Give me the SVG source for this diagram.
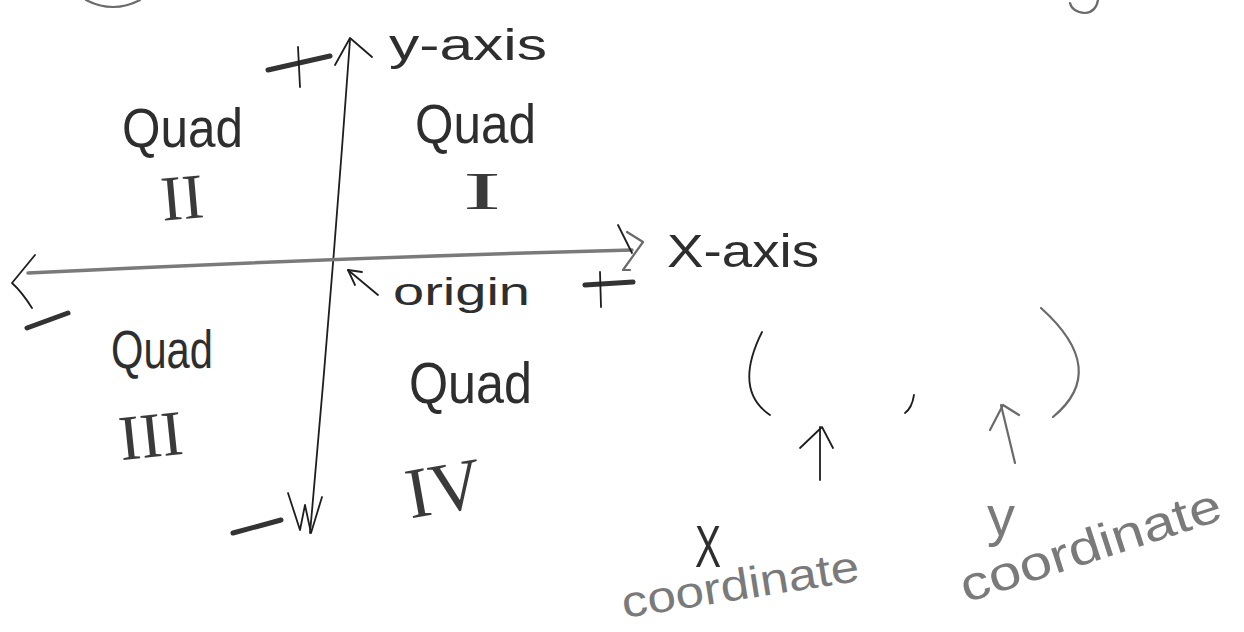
<svg xmlns="http://www.w3.org/2000/svg" width="1244" height="632" viewBox="0 0 1244 632">
<defs>
<style>
.pen{fill:none;stroke:#1e1e1e;stroke-width:1.8;stroke-linecap:round;stroke-linejoin:round}
.pencil{fill:none;stroke:#6a6a6a;stroke-width:2.2;stroke-linecap:round;stroke-linejoin:round}
.thick{fill:none;stroke:#333;stroke-width:5;stroke-linecap:round}
.axis{fill:none;stroke:#7a7a7a;stroke-width:3.5;stroke-linecap:round}
.hand{font-family:"Liberation Sans","DejaVu Sans",sans-serif;fill:#2e2e2e}
.roman{font-family:"Liberation Serif","DejaVu Serif",serif;fill:#3a3a3a}
.light{font-family:"Liberation Sans","DejaVu Sans",sans-serif;fill:#7a7a7a}
</style>
</defs>
<rect width="1244" height="632" fill="#ffffff"/>

<g id="fragments">
<path class="pencil" d="M86 0 Q113 14 140 0"/>
<path class="pencil" d="M1098 0 Q1096 12 1085 13 Q1072 12 1070 3"/>
</g>

<g id="y-axis">
<path class="pen" d="M350 40 Q332 290 310 533"/>
<path class="pen" d="M335 65 L350 38 L372 57"/>
<path class="pen" d="M288 493 L300 530 L305 505 L311 533 L322 497"/>
<path class="thick" d="M268 70 L330 56" stroke-width="4.5"/>
<path class="pen" d="M298 47 L300 87" stroke-width="2.5"/>
<path class="thick" d="M233 533 L281 520"/>
<text class="hand" x="389" y="60" font-size="44" textLength="158" lengthAdjust="spacingAndGlyphs">y-axis</text>
</g>

<g id="x-axis">
<path class="axis" d="M28 273 Q330 258 632 250"/>
<path class="pen" d="M35 255 L12 283 Q22 292 32 308" stroke="#444" stroke-width="2.2"/>
<path class="pen" d="M618 225 L632 253" stroke-width="2.6"/>
<path class="pencil" d="M627 232 L643 242 L623 270 L630 270"/>
<path class="thick" d="M27 328 L68 313"/>
<path class="thick" d="M585 285 L633 282" stroke-width="4.5"/>
<path class="pen" d="M600 272 L601 307" stroke-width="2.5"/>
<text class="hand" x="667" y="267" font-size="46" textLength="152" lengthAdjust="spacingAndGlyphs">X-axis</text>
</g>

<g id="quad-1">
<text class="hand" x="415" y="143" font-size="56" textLength="121" lengthAdjust="spacingAndGlyphs">Quad</text>
<text class="roman" transform="translate(482 209) scale(2.2 1)" text-anchor="middle" font-size="52">I</text>
</g>

<g id="quad-2">
<text class="hand" x="122" y="147" font-size="56" textLength="121" lengthAdjust="spacingAndGlyphs">Quad</text>
<text class="roman" transform="translate(184 219) rotate(-5)" text-anchor="middle" font-size="64">II</text>
</g>

<g id="quad-3">
<text class="hand" x="111" y="368" font-size="54" textLength="102" lengthAdjust="spacingAndGlyphs">Quad</text>
<text class="roman" transform="translate(153 457) rotate(-6)" text-anchor="middle" font-size="64">III</text>
</g>

<g id="quad-4">
<text class="hand" x="409" y="403" font-size="58" textLength="123" lengthAdjust="spacingAndGlyphs">Quad</text>
<text class="roman" transform="translate(448 512) rotate(-10)" text-anchor="middle" font-size="72">IV</text>
</g>

<g id="origin">
<text class="hand" x="393" y="305" font-size="38" textLength="137" lengthAdjust="spacingAndGlyphs">origin</text>
</g>

<g id="ordered-pair">
<path class="pen" d="M762 332 Q733 390 770 415"/>
<path class="pen" d="M914 395 Q912 408 905 413" stroke-width="2.4"/>
<path class="pencil" d="M1041 308 Q1110 370 1053 417" stroke="#555"/>
</g>

<g id="x-coordinate">
<text class="hand" x="695" y="567" font-size="60" textLength="26" lengthAdjust="spacingAndGlyphs" fill="#444">X</text>
<text class="light" transform="translate(624 618) rotate(-9)" font-size="44" textLength="240" lengthAdjust="spacingAndGlyphs">coordinate</text>
</g>

<g id="y-coordinate">
<text class="light" x="987" y="535" font-size="56" textLength="28" lengthAdjust="spacingAndGlyphs" fill="#666">y</text>
<text class="light" transform="translate(966 603) rotate(-18)" font-size="48" textLength="272" lengthAdjust="spacingAndGlyphs">coordinate</text>
</g>

<g id="connectors">
<path class="pen" d="M378 295 L348 270" stroke-width="2"/>
<path class="pen" d="M362 272 L348 270 L355 285" stroke-width="3"/>
<path class="pen" d="M820 480 L820 427" stroke-width="2.2"/>
<path class="pen" d="M800 448 L822 427 L833 448" stroke-width="2.6"/>
<path class="pencil" d="M1015 463 L1001 405"/>
<path class="pencil" d="M990 430 L1003 405 L1019 415"/>
</g>
</svg>
